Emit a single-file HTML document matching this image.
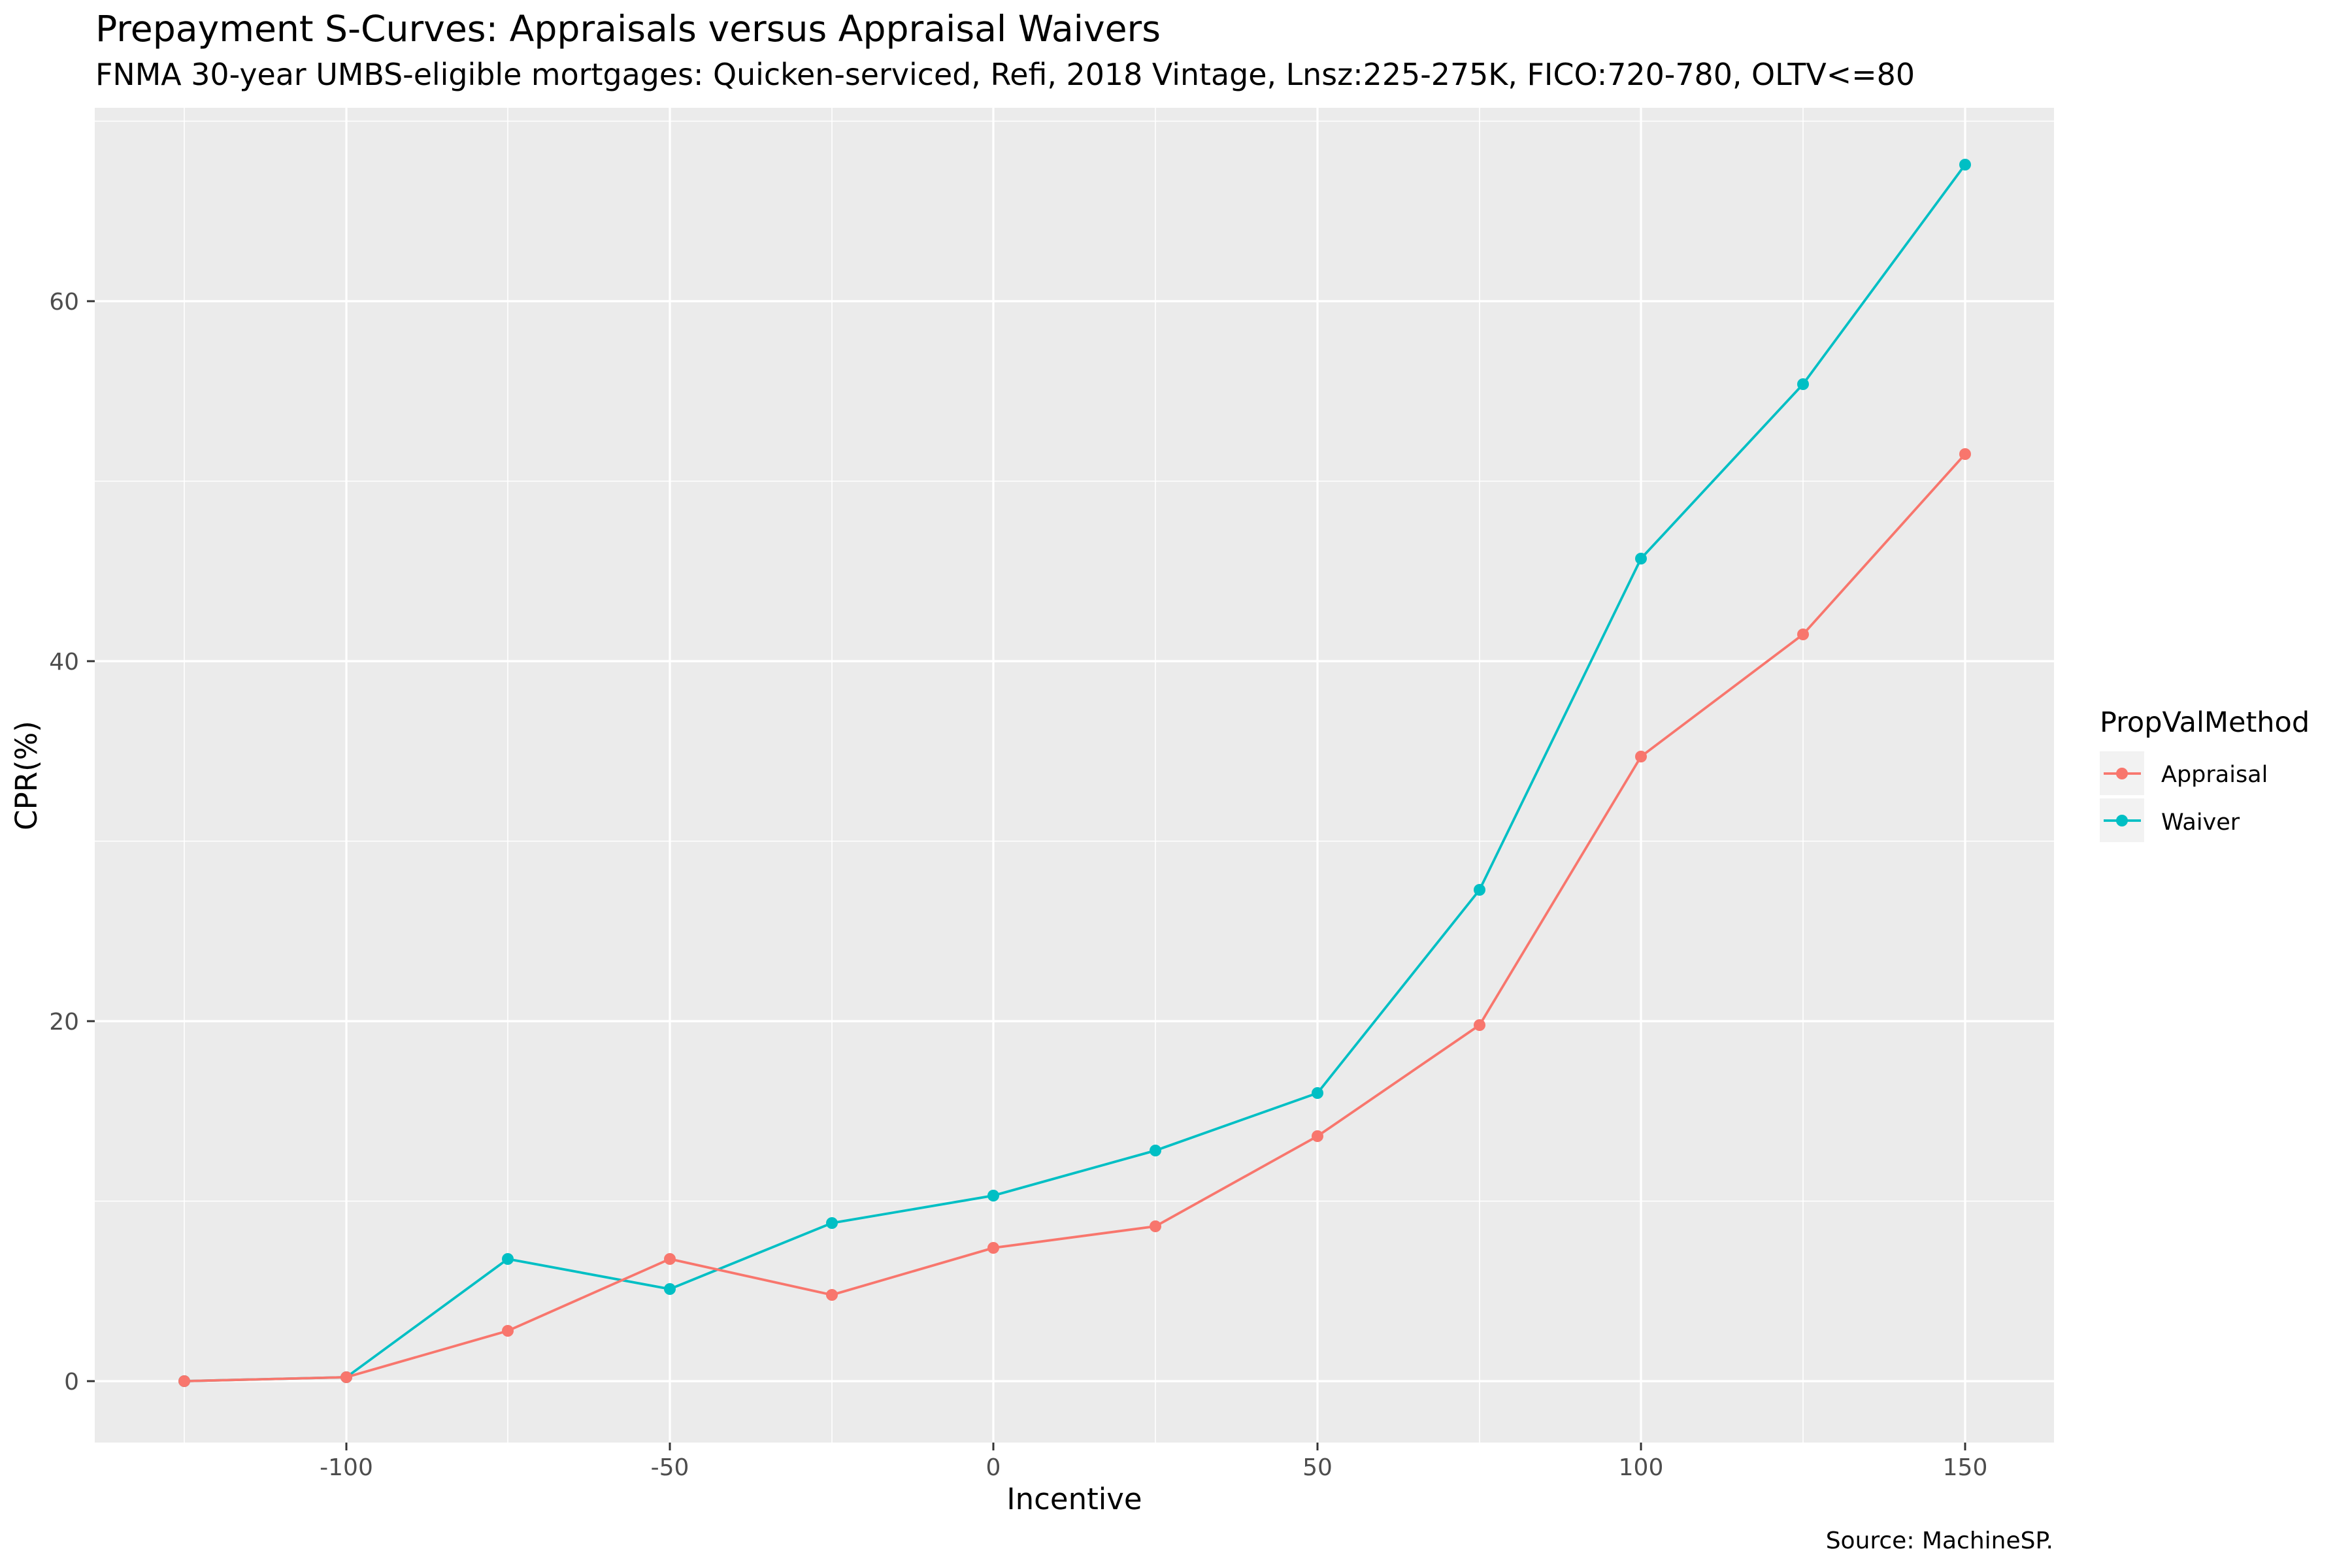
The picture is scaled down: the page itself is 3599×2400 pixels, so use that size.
<!DOCTYPE html>
<html><head><meta charset="utf-8"><style>html,body{margin:0;padding:0;background:#fff}svg{display:block}</style></head>
<body>
<svg width="3599" height="2400" viewBox="0 0 3599 2400" xmlns="http://www.w3.org/2000/svg" font-family="DejaVu Sans, Liberation Sans, sans-serif">
<rect width="3599" height="2400" fill="#fff"/>
<text x="146" y="63" font-size="55" fill="#000" textLength="1630" lengthAdjust="spacingAndGlyphs">Prepayment S-Curves: Appraisals versus Appraisal Waivers</text>
<text x="146" y="130" font-size="46" fill="#000" textLength="2784" lengthAdjust="spacingAndGlyphs">FNMA 30-year UMBS-eligible mortgages: Quicken-serviced, Refi, 2018 Vintage, Lnsz:225-275K, FICO:720-780, OLTV&lt;=80</text>
<rect x="145" y="165" width="2998" height="2043" fill="#ebebeb"/>
<g stroke="#fff" stroke-width="1.6">
<line x1="145" x2="3143" y1="1838.5" y2="1838.5"/><line x1="145" x2="3143" y1="1287.5" y2="1287.5"/><line x1="145" x2="3143" y1="736.5" y2="736.5"/><line x1="145" x2="3143" y1="185.5" y2="185.5"/>
<line y1="165" y2="2208" x1="282" x2="282"/><line y1="165" y2="2208" x1="777" x2="777"/><line y1="165" y2="2208" x1="1273" x2="1273"/><line y1="165" y2="2208" x1="1768" x2="1768"/><line y1="165" y2="2208" x1="2264" x2="2264"/><line y1="165" y2="2208" x1="2759" x2="2759"/>
</g>
<g stroke="#fff" stroke-width="3.2">
<line x1="145" x2="3143" y1="2114" y2="2114"/><line x1="145" x2="3143" y1="1563" y2="1563"/><line x1="145" x2="3143" y1="1012" y2="1012"/><line x1="145" x2="3143" y1="461" y2="461"/>
<line y1="165" y2="2208" x1="530" x2="530"/><line y1="165" y2="2208" x1="1025" x2="1025"/><line y1="165" y2="2208" x1="1520" x2="1520"/><line y1="165" y2="2208" x1="2016" x2="2016"/><line y1="165" y2="2208" x1="2511" x2="2511"/><line y1="165" y2="2208" x1="3007" x2="3007"/>
</g>
<polyline fill="none" stroke="#00bfc4" stroke-width="3.8" points="282,2114 530,2108 777,1927 1025,1973 1273,1872 1520,1830 1768,1761 2016,1673 2264,1362 2511,855 2759,588 3007,252"/>
<polyline fill="none" stroke="#f8766d" stroke-width="3.8" points="282,2114 530,2108 777,2037 1025,1927 1273,1982 1520,1910 1768,1877 2016,1739 2264,1569 2511,1158 2759,971 3007,695"/>
<g fill="#00bfc4">
<circle cx="282" cy="2114" r="9"/><circle cx="530" cy="2108" r="9"/><circle cx="777" cy="1927" r="9"/><circle cx="1025" cy="1973" r="9"/><circle cx="1273" cy="1872" r="9"/><circle cx="1520" cy="1830" r="9"/><circle cx="1768" cy="1761" r="9"/><circle cx="2016" cy="1673" r="9"/><circle cx="2264" cy="1362" r="9"/><circle cx="2511" cy="855" r="9"/><circle cx="2759" cy="588" r="9"/><circle cx="3007" cy="252" r="9"/>
</g>
<g fill="#f8766d">
<circle cx="282" cy="2114" r="9"/><circle cx="530" cy="2108" r="9"/><circle cx="777" cy="2037" r="9"/><circle cx="1025" cy="1927" r="9"/><circle cx="1273" cy="1982" r="9"/><circle cx="1520" cy="1910" r="9"/><circle cx="1768" cy="1877" r="9"/><circle cx="2016" cy="1739" r="9"/><circle cx="2264" cy="1569" r="9"/><circle cx="2511" cy="1158" r="9"/><circle cx="2759" cy="971" r="9"/><circle cx="3007" cy="695" r="9"/>
</g>
<g stroke="#333" stroke-width="3">
<line x1="133" x2="145" y1="2114" y2="2114"/><line x1="133" x2="145" y1="1563" y2="1563"/><line x1="133" x2="145" y1="1012" y2="1012"/><line x1="133" x2="145" y1="461" y2="461"/>
<line y1="2208" y2="2220" x1="530" x2="530"/><line y1="2208" y2="2220" x1="1025" x2="1025"/><line y1="2208" y2="2220" x1="1520" x2="1520"/><line y1="2208" y2="2220" x1="2016" x2="2016"/><line y1="2208" y2="2220" x1="2511" x2="2511"/><line y1="2208" y2="2220" x1="3007" x2="3007"/>
</g>
<g font-size="36" fill="#4d4d4d" text-anchor="end">
<text x="121" y="2127">0</text><text x="121" y="1576">20</text><text x="121" y="1025">40</text><text x="121" y="474">60</text>
</g>
<g font-size="36" fill="#4d4d4d" text-anchor="middle">
<text x="530" y="2258">-100</text><text x="1025" y="2258">-50</text><text x="1520" y="2258">0</text><text x="2016" y="2258">50</text><text x="2511" y="2258">100</text><text x="3007" y="2258">150</text>
</g>
<text x="1644" y="2310" font-size="45" text-anchor="middle" fill="#000">Incentive</text>
<text transform="translate(56,1187) rotate(-90)" font-size="45" text-anchor="middle" fill="#000">CPR(%)</text>
<text x="3142" y="2370" font-size="36" text-anchor="end" fill="#000">Source: MachineSP.</text>
<text x="3213" y="1120" font-size="43" fill="#000">PropValMethod</text>
<rect x="3213" y="1150" width="68" height="67" fill="#f2f2f2"/>
<rect x="3213" y="1222" width="68" height="67" fill="#f2f2f2"/>
<line x1="3219" x2="3276" y1="1184" y2="1184" stroke="#f8766d" stroke-width="3.8"/>
<circle cx="3247" cy="1184" r="9" fill="#f8766d"/>
<line x1="3219" x2="3276" y1="1256" y2="1256" stroke="#00bfc4" stroke-width="3.8"/>
<circle cx="3247" cy="1256" r="9" fill="#00bfc4"/>
<text x="3307" y="1197" font-size="35" fill="#000">Appraisal</text>
<text x="3307" y="1270" font-size="35" fill="#000">Waiver</text>
</svg>
</body></html>
